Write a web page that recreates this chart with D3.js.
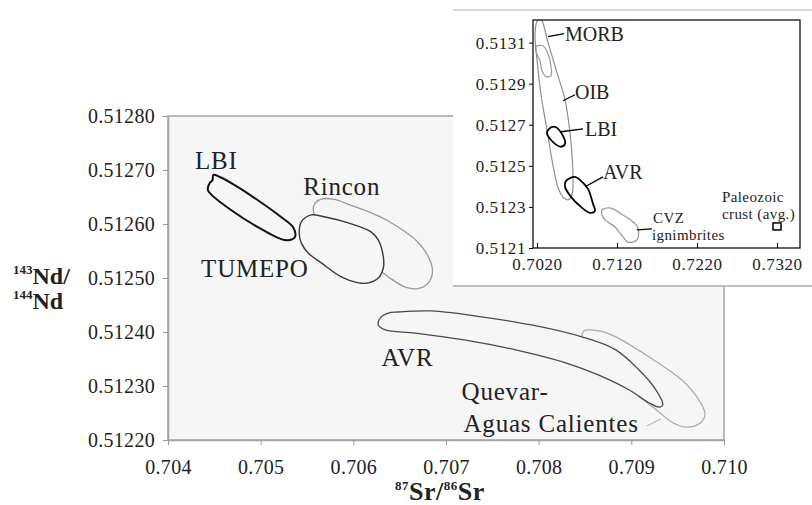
<!DOCTYPE html>
<html>
<head>
<meta charset="utf-8">
<script src="https://cdn.jsdelivr.net/npm/d3@7"></script>
<style>
  body { margin: 0; background: #fff; }
  svg text { font-family: "Times New Roman", "Liberation Serif", Times, serif; fill: #222; }
</style>
</head>
<body>
<div id="chart_area"></div>
<script>
// main plot ticks
var mainXTicks = [0.704, 0.705, 0.706, 0.707, 0.708, 0.709, 0.710];
var mainYTicks = [0.5122, 0.5123, 0.5124, 0.5125, 0.5126, 0.5127, 0.5128];

// main plot fields [87Sr/86Sr, 143Nd/144Nd]
var lbiMain = [[0.70449,0.512691],[0.70456,0.512687],[0.70472,0.512672],[0.70497,0.512644],[0.70522,0.512613],[0.70535,0.512594],[0.70537,0.512576],[0.70530,0.512570],[0.70522,0.512572],[0.70497,0.512594],[0.70468,0.512626],[0.70447,0.512654],[0.70443,0.512663],[0.70445,0.512676],[0.70448,0.512681]];
var tumepoMain = [[0.705546,0.512617],[0.705697,0.512613],[0.705946,0.512602],[0.706195,0.512585],[0.70627,0.51257],[0.706324,0.512539],[0.706324,0.512519],[0.70627,0.5125],[0.706162,0.512491],[0.706054,0.512491],[0.70587,0.512502],[0.705654,0.512528],[0.705514,0.512546],[0.705438,0.512565],[0.705416,0.512583],[0.705438,0.512604],[0.705492,0.512613]];
var rinconMain = [[0.705589,0.512639],[0.705654,0.512646],[0.705784,0.512646],[0.706,0.512633],[0.70627,0.512615],[0.706486,0.512594],[0.706681,0.512569],[0.706811,0.512539],[0.706854,0.512511],[0.7068,0.512489],[0.706681,0.51248],[0.706562,0.512483],[0.706378,0.512502],[0.706162,0.51253],[0.705838,0.51257],[0.705622,0.512604],[0.705568,0.512626]];
var avrMain = [[0.70627,0.512413],[0.706292,0.512426],[0.706378,0.512435],[0.706486,0.512437],[0.706843,0.512439],[0.707384,0.512428],[0.707924,0.512413],[0.708465,0.512391],[0.708832,0.512367],[0.709081,0.51233],[0.709265,0.512293],[0.70934,0.512265],[0.709297,0.512261],[0.709189,0.512269],[0.708973,0.512293],[0.708649,0.51232],[0.708292,0.512343],[0.707751,0.512367],[0.707211,0.512385],[0.70667,0.512398],[0.706346,0.512404]];
var quevarMain = [[0.708465,0.512393],[0.708486,0.512402],[0.708649,0.512402],[0.708832,0.512391],[0.709189,0.512354],[0.709546,0.512311],[0.70973,0.512274],[0.709795,0.512248],[0.709741,0.512231],[0.709589,0.512224],[0.709438,0.512233],[0.709297,0.512252],[0.709135,0.512274],[0.708865,0.512311],[0.708649,0.512344],[0.708486,0.51237]];

// main plot labels
var mainLabels = [
  {text: "LBI", at: [0.704292, 0.512702]},
  {text: "Rincon", at: [0.705459, 0.512654]},
  {text: "TUMEPO", at: [0.704357, 0.512502]},
  {text: "AVR", at: [0.706303, 0.512337]},
  {text: "Quevar-", at: [0.707168, 0.512274]},
  {text: "Aguas Calientes", at: [0.707189, 0.512215]}
];
var quevarLeader = [[0.709168, 0.512226], [0.709319, 0.512239]];

// inset ticks
var insetXTicks = [0.702, 0.712, 0.722, 0.732];
var insetYTicks = [0.5121, 0.5123, 0.5125, 0.5127, 0.5129, 0.5131];

// inset fields
var oibInset = [[0.7025,0.513212],[0.703375,0.5131],[0.7045,0.512954],[0.7055,0.512822],[0.706125,0.512661],[0.706375,0.512554],[0.7065,0.512432],[0.706375,0.512359],[0.705875,0.512334],[0.70525,0.512349],[0.704625,0.512393],[0.703875,0.512529],[0.70325,0.512676],[0.7025,0.512846],[0.702,0.513017],[0.70175,0.513139],[0.702,0.513202]];
var morbInset = [[0.701875,0.51308],[0.70275,0.513085],[0.703375,0.513046],[0.70375,0.512983],[0.70375,0.512939],[0.703125,0.512934],[0.702625,0.512963],[0.702375,0.513012],[0.701875,0.513056]];
var lbiInset = [[0.7035,0.51268],[0.70425,0.51269],[0.70525,0.512646],[0.7055,0.512607],[0.705,0.512593],[0.70425,0.512607],[0.703625,0.512632],[0.70325,0.512656]];
var avrInset = [[0.705625,0.512427],[0.70675,0.512446],[0.7075,0.512427],[0.708375,0.512388],[0.709,0.512315],[0.70925,0.51228],[0.708625,0.512271],[0.7075,0.5123],[0.70625,0.512349],[0.7055,0.512398]];
var cvzInset = [[0.710125,0.512285],[0.711125,0.512295],[0.71275,0.512261],[0.714,0.512227],[0.714625,0.512198],[0.7145,0.512139],[0.713375,0.512129],[0.71275,0.512154],[0.71175,0.512202],[0.7105,0.512237],[0.710125,0.512261]];
var paleozoicCrust = [0.732, 0.512205];

// inset labels and leader lines
var insetLabels = [
  {text: "MORB", at: [0.7055, 0.51311], size: 20},
  {text: "OIB", at: [0.70675, 0.512827], size: 20},
  {text: "LBI", at: [0.708, 0.512646], size: 20},
  {text: "AVR", at: [0.71025, 0.512437], size: 20},
  {text: "CVZ", at: [0.7165, 0.512222], size: 15},
  {text: "ignimbrites", at: [0.716375, 0.512139], size: 15},
  {text: "Paleozoic", at: [0.725125, 0.512324], size: 15},
  {text: "crust (avg.)", at: [0.725125, 0.512241], size: 15}
];
var insetLeaders = [
  [[0.703375, 0.513129], [0.705375, 0.513144]],
  [[0.70525, 0.512817], [0.70675, 0.512846]],
  [[0.705, 0.512666], [0.70775, 0.51268]],
  [[0.708, 0.512398], [0.71025, 0.512446]],
  [[0.7145, 0.512188], [0.716375, 0.512193]]
];

var serif = "'Times New Roman', 'Liberation Serif', Times, serif";

var svg = d3.select("#chart_area")
    .append("svg")
        .attr("width", 812)
        .attr("height", 505)
        .attr("font-family", serif);

// ---------- main plot ----------
var x = d3.scaleLinear().domain([0.704, 0.710]).range([168, 724]);
var y = d3.scaleLinear().domain([0.5122, 0.5128]).range([440, 116]);

svg.append("rect")
    .attr("x", x(0.704))
    .attr("y", y(0.5128))
    .attr("width", x(0.710) - x(0.704))
    .attr("height", y(0.5122) - y(0.5128))
    .attr("fill", "#f6f6f6")
    .attr("stroke", "#a4a4a4")
    .attr("stroke-width", 1.5);

//x axis
var xAxis = d3.axisBottom(x)
    .tickValues(mainXTicks)
    .tickFormat(d3.format(".3f"))
    .tickSizeInner(5)
    .tickSizeOuter(0)
    .tickPadding(15);
var gx = svg.append("g")
    .attr("transform", "translate(0," + y(0.5122) + ")")
    .call(xAxis)
    .attr("font-family", serif);
gx.select(".domain").attr("stroke", "#a4a4a4").attr("stroke-width", 1.5);
gx.selectAll("line").attr("stroke", "#999");
gx.selectAll("text")
    .attr("font-size", "20px")
    .attr("letter-spacing", "0.3px");

//y axis
var yAxis = d3.axisLeft(y)
    .tickValues(mainYTicks)
    .tickFormat(d3.format(".5f"))
    .tickSizeInner(5)
    .tickSizeOuter(0)
    .tickPadding(8);
var gy = svg.append("g")
    .attr("transform", "translate(" + x(0.704) + ",0)")
    .call(yAxis)
    .attr("font-family", serif);
gy.select(".domain").attr("stroke", "#a4a4a4").attr("stroke-width", 1.5);
gy.selectAll("line").attr("stroke", "#999");
gy.selectAll("text")
    .attr("font-size", "20px")
    .attr("letter-spacing", "0.3px");

var mainLine = d3.line()
    .x(function(d){ return x(d[0]); })
    .y(function(d){ return y(d[1]); })
    .curve(d3.curveCatmullRomClosed.alpha(0.5));

function field(data, stroke, width, fill){
    svg.append("path")
        .datum(data)
        .attr("d", mainLine)
        .attr("fill", fill || "none")
        .attr("stroke", stroke)
        .attr("stroke-width", width);
}

field(quevarMain, "#a8a8a8", 1.2);
field(avrMain, "#4a4a4a", 1.3, "#f6f6f6");
field(rinconMain, "#9a9a9a", 1.3);
field(tumepoMain, "#3a3a3a", 1.4, "#f6f6f6");
field(lbiMain, "#111", 2);

svg.append("line")
    .attr("x1", x(quevarLeader[0][0])).attr("y1", y(quevarLeader[0][1]))
    .attr("x2", x(quevarLeader[1][0])).attr("y2", y(quevarLeader[1][1]))
    .attr("stroke", "#aaa")
    .attr("stroke-width", 1);

svg.selectAll(".mainlabel")
    .data(mainLabels)
    .enter().append("text")
        .attr("class", "mainlabel")
        .attr("x", function(d){ return x(d.at[0]); })
        .attr("y", function(d){ return y(d.at[1]); })
        .attr("font-size", "25px")
        .attr("letter-spacing", "0.8px")
        .text(function(d){ return d.text; });

//x label
var xl = svg.append("text")
    .attr("x", 395)
    .attr("y", 500)
    .attr("font-weight", "bold")
    .attr("letter-spacing", "0.5px");
xl.append("tspan").attr("font-size", "13px").attr("dy", "-10").text("87");
xl.append("tspan").attr("font-size", "26px").attr("dy", "10").text("Sr/");
xl.append("tspan").attr("font-size", "13px").attr("dy", "-10").text("86");
xl.append("tspan").attr("font-size", "26px").attr("dy", "10").text("Sr");

//y label
var yl1 = svg.append("text").attr("x", 13).attr("y", 284).attr("font-weight", "bold");
yl1.append("tspan").attr("font-size", "13px").attr("dy", "-10").text("143");
yl1.append("tspan").attr("font-size", "24px").attr("dy", "10").text("Nd/");
var yl2 = svg.append("text").attr("x", 13).attr("y", 309).attr("font-weight", "bold");
yl2.append("tspan").attr("font-size", "13px").attr("dy", "-10").text("144");
yl2.append("tspan").attr("font-size", "24px").attr("dy", "10").text("Nd");

// ---------- inset ----------
svg.append("rect")
    .attr("x", 453).attr("y", 10)
    .attr("width", 359).attr("height", 276)
    .attr("fill", "#fff");
svg.append("line")
    .attr("x1", 453).attr("x2", 812).attr("y1", 10).attr("y2", 10)
    .attr("stroke", "#c8c8c8").attr("stroke-width", 1.5);
svg.append("line")
    .attr("x1", 453).attr("x2", 812).attr("y1", 286).attr("y2", 286)
    .attr("stroke", "#aaa").attr("stroke-width", 1.5);

var ix = d3.scaleLinear().domain([0.7015, 0.734875]).range([533, 800]);
var iy = d3.scaleLinear().domain([0.5121, 0.51321]).range([248, 20]);

svg.append("clipPath")
    .attr("id", "insetclip")
    .append("rect")
        .attr("x", 533).attr("y", 20)
        .attr("width", 267).attr("height", 228);

var insetLine = d3.line()
    .x(function(d){ return ix(d[0]); })
    .y(function(d){ return iy(d[1]); })
    .curve(d3.curveCatmullRomClosed.alpha(0.5));

var ig = svg.append("g").attr("clip-path", "url(#insetclip)");
function insetField(data, stroke, width){
    ig.append("path")
        .datum(data)
        .attr("d", insetLine)
        .attr("fill", "none")
        .attr("stroke", stroke)
        .attr("stroke-width", width);
}
insetField(oibInset, "#8e8e8e", 1.2);
insetField(morbInset, "#9a9a9a", 1.2);
insetField(cvzInset, "#9a9a9a", 1.3);
insetField(lbiInset, "#000", 1.8);
insetField(avrInset, "#000", 1.8);

svg.append("rect")
    .attr("x", ix(paleozoicCrust[0]) - 4)
    .attr("y", iy(paleozoicCrust[1]) - 3.5)
    .attr("width", 8).attr("height", 7)
    .attr("fill", "none")
    .attr("stroke", "#000")
    .attr("stroke-width", 1.5);

svg.selectAll(".leader")
    .data(insetLeaders)
    .enter().append("line")
        .attr("class", "leader")
        .attr("x1", function(d){ return ix(d[0][0]); })
        .attr("y1", function(d){ return iy(d[0][1]); })
        .attr("x2", function(d){ return ix(d[1][0]); })
        .attr("y2", function(d){ return iy(d[1][1]); })
        .attr("stroke", "#000")
        .attr("stroke-width", 1.3);

svg.selectAll(".insetlabel")
    .data(insetLabels)
    .enter().append("text")
        .attr("class", "insetlabel")
        .attr("x", function(d){ return ix(d.at[0]); })
        .attr("y", function(d){ return iy(d.at[1]); })
        .attr("font-size", function(d){ return d.size + "px"; })
        .attr("letter-spacing", function(d){ return d.size < 20 ? "0.4px" : "0px"; })
        .text(function(d){ return d.text; });

// inset frame
svg.append("rect")
    .attr("x", 533).attr("y", 20)
    .attr("width", 267).attr("height", 228)
    .attr("fill", "none")
    .attr("stroke", "#111")
    .attr("stroke-width", 1.3);

var ixAxis = d3.axisBottom(ix)
    .tickValues(insetXTicks)
    .tickFormat(d3.format(".4f"))
    .tickSizeInner(-5)
    .tickSizeOuter(0)
    .tickPadding(10);
var igx = svg.append("g")
    .attr("transform", "translate(0,248)")
    .call(ixAxis)
    .attr("font-family", serif);
igx.select(".domain").remove();
igx.selectAll("text")
    .attr("font-size", "17px")
    .attr("letter-spacing", "0.6px");

var iyAxis = d3.axisLeft(iy)
    .tickValues(insetYTicks)
    .tickFormat(d3.format(".4f"))
    .tickSizeInner(4)
    .tickSizeOuter(0)
    .tickPadding(3);
var igy = svg.append("g")
    .attr("transform", "translate(533,0)")
    .call(iyAxis)
    .attr("font-family", serif);
igy.select(".domain").remove();
igy.selectAll("text")
    .attr("font-size", "17px")
    .attr("letter-spacing", "0.6px");
</script>
</body>
</html>
